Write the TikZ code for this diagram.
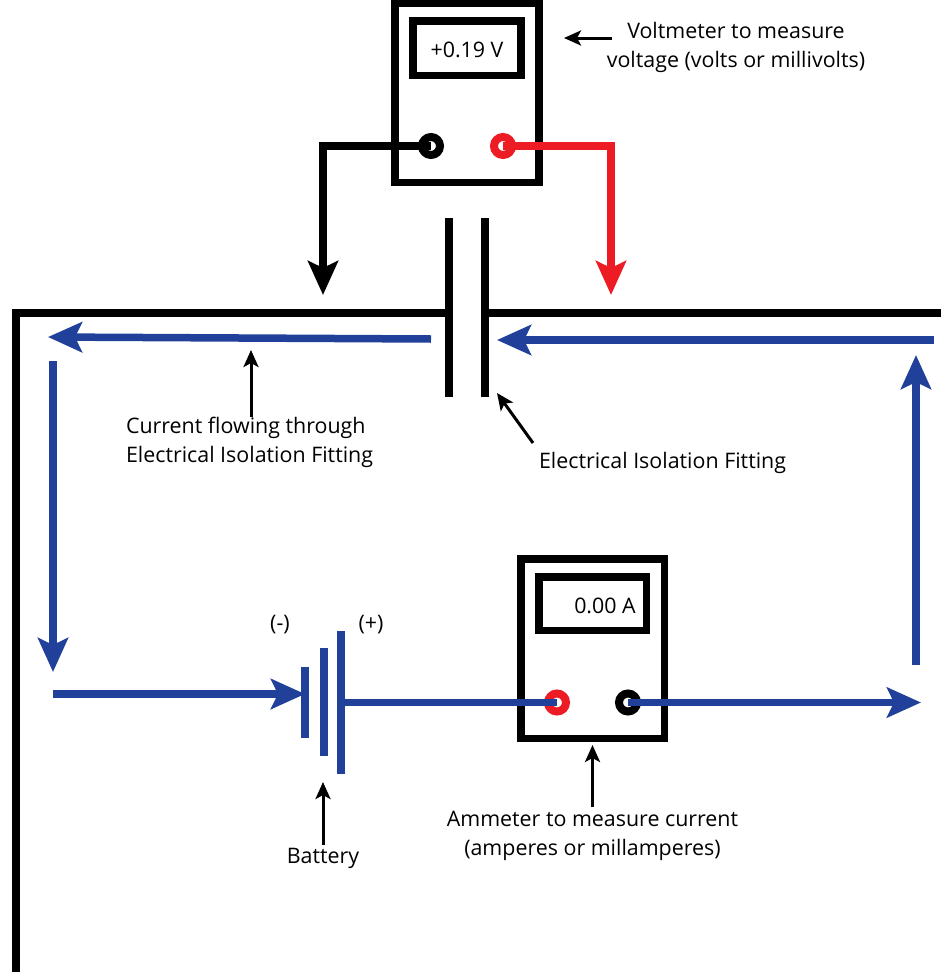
\documentclass[tikz,border=0pt]{standalone}
\usepackage{fontspec}
\setmainfont{Open Sans}
\usepackage{tikz}
\usetikzlibrary{arrows.meta}
\definecolor{wireblue}{HTML}{21409A}
\definecolor{wirered}{HTML}{ED1C24}
\tikzset{
	meterbody/.style={draw=black,line width=7.5pt,fill=white,inner sep=0pt,outer sep=0pt},
	terminal/.style={circle,draw=#1,line width=8pt,fill=white,minimum size=18pt,inner sep=0pt,outer sep=0pt},
	bigwire/.style={line width=7.5pt,-{Stealth[length=34pt,width=30pt,inset=7pt]}},
	bluewire/.style={bigwire,draw=wireblue},
	pipe/.style={line width=7.5pt},
	plate/.style={line width=8pt,draw=wireblue},
	pointer/.style={line width=3pt,-{Stealth[length=17pt,width=15pt,inset=4pt]}},
	caption/.style={font=\fontsize{21.4}{29}\selectfont,inner sep=0pt,outer sep=0pt}
}
\begin{document}
\begin{tikzpicture}[x=1pt,y=-1pt]
	\useasboundingbox (0,0) rectangle (941,972);
	% voltmeter
	\node[meterbody,minimum width=144pt,minimum height=179pt] (voltmeter) at (467,93) {};
	\node[meterbody,minimum width=108pt,minimum height=54.5pt] (vdisplay) at (467,48) {};
	\node[caption] (vreading) at (467,50) {+0.19 V};
	\node[terminal=black] (vneg) at (431,146) {};
	\node[terminal=wirered] (vpos) at (503,146) {};
	\coordinate (vnegend) at (323,295);
	\coordinate (vposend) at (611,295);
	\draw[bigwire] (vneg.center) -| (vnegend);
	\draw[bigwire,draw=wirered] (vpos.center) -| (vposend);
	% pipe and isolation fitting
	\draw[pipe] (449,218) -- (449,397);
	\draw[pipe] (485,218) -- (485,397);
	\draw[pipe] (449,313) -- (16,313) -- (16,972);
	\draw[pipe] (485,313) -- (941,313);
	% ammeter
	\node[meterbody,minimum width=143.5pt,minimum height=179.5pt] (ammeter) at (592.5,648.5) {};
	\node[meterbody,minimum width=107.5pt,minimum height=53.5pt] (adisplay) at (592.5,603.5) {};
	\node[caption] (areading) at (605,606) {0.00 A};
	\node[terminal=wirered] (apos) at (557,702.5) {};
	\node[terminal=black] (aneg) at (628,702.5) {};
	% battery
	\coordinate (bneg) at (305,694);
	\coordinate (bpos) at (341,702.5);
	\draw[plate] (305,667) -- (305,738);
	\draw[plate] (323.5,648) -- (323.5,756);
	\draw[plate] (bpos |- 0,631) -- (bpos |- 0,774);
	% current path
	\coordinate (topleftstart) at (431,339);
	\coordinate (topleftend) at (48,337);
	\coordinate (leftstart) at (53,361);
	\coordinate (leftend) at (53,672);
	\coordinate (bottomstart) at (53,694);
	\coordinate (bottomend) at (921,702.5);
	\coordinate (rightstart) at (916,665);
	\coordinate (rightend) at (916,355);
	\coordinate (topstart) at (934,340);
	\coordinate (topend) at (497,340);
	\draw[bluewire] (topleftstart) -- (topleftend);
	\draw[bluewire] (leftstart) -- (leftend);
	\draw[bluewire] (bottomstart) -- (bneg);
	\draw[line width=7.5pt,draw=wireblue] (bpos) -- (apos.center);
	\draw[bluewire] (aneg.center) -- (bottomend);
	\draw[bluewire] (rightstart) -- (rightend);
	\draw[bluewire] (topstart) -- (topend);
	% labels
	\node[caption,align=center] (vlabel) at (736,47) {Voltmeter to measure\\voltage (volts or millivolts)};
	\node[caption,align=left,anchor=west] (currentlabel) at (126,442) {Current flowing through\\Electrical Isolation Fitting};
	\node[caption,anchor=west] (fittinglabel) at (539,463) {Electrical Isolation Fitting};
	\node[caption,align=center] (alabel) at (592.5,836) {Ammeter to measure current\\(amperes or millamperes)};
	\node[caption] (blabel) at (323,858) {Battery};
	\node[caption] (minuslabel) at (280,625) {(-)};
	\node[caption] (pluslabel) at (371,625) {(+)};
	% pointers
	\draw[pointer] (vlabel.west |- 0,38) ++(5,0) -- (564,38);
	\draw[pointer] (251,417) -- (251,350);
	\draw[pointer] (533,443) -- (497,393);
	\draw[pointer] (blabel.north) ++(0,-3) -- (323,782);
	\draw[pointer] (alabel.north) ++(0,-4) -- (ammeter.south |- 0,745);
\end{tikzpicture}
\end{document}
